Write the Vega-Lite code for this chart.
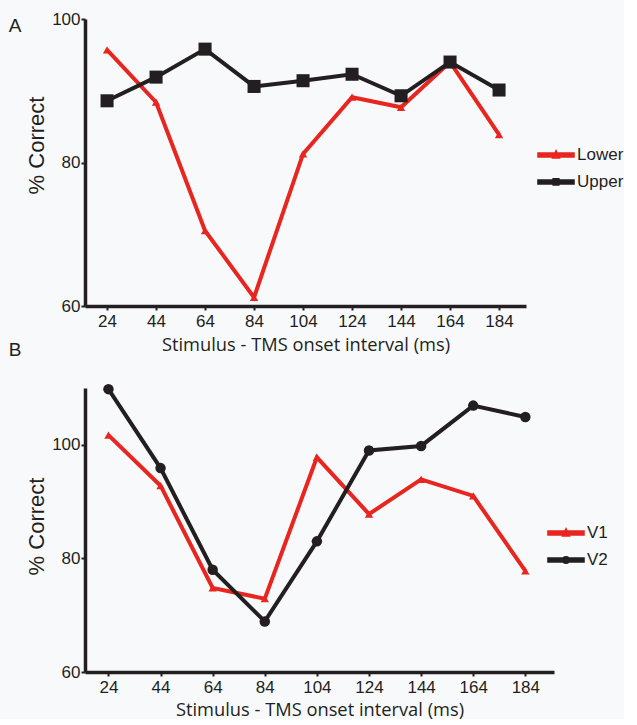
{
  "$schema": "https://vega.github.io/schema/vega-lite/v6.json",
  "background": "#f8f9fb",
  "padding": {"left": 8, "top": 10, "right": 0, "bottom": 0},
  "config": {
    "view": {"stroke": null},
    "font": "Liberation Sans",
    "axis": {
      "grid": false,
      "domainColor": "#231f20",
      "domainWidth": 3.5,
      "tickColor": "#231f20",
      "tickWidth": 2,
      "tickSize": 4,
      "labelFont": "Liberation Sans",
      "labelFontSize": 17,
      "labelColor": "#231f20",
      "titleColor": "#231f20",
      "titleFontWeight": "normal"
    },
    "title": {"font": "Liberation Sans", "fontSize": 19, "fontWeight": "normal", "color": "#231f20", "anchor": "start", "frame": "bounds"}
  },
  "datasets": {
    "panelA": [
      {"series": "Lower", "interval": 24, "pct": 95.7},
      {"series": "Lower", "interval": 44, "pct": 88.4},
      {"series": "Lower", "interval": 64, "pct": 70.5},
      {"series": "Lower", "interval": 84, "pct": 61.2},
      {"series": "Lower", "interval": 104, "pct": 81.2},
      {"series": "Lower", "interval": 124, "pct": 89.1},
      {"series": "Lower", "interval": 144, "pct": 87.7},
      {"series": "Lower", "interval": 164, "pct": 94.0},
      {"series": "Lower", "interval": 184, "pct": 83.9},
      {"series": "Upper", "interval": 24, "pct": 88.6},
      {"series": "Upper", "interval": 44, "pct": 91.9},
      {"series": "Upper", "interval": 64, "pct": 95.8},
      {"series": "Upper", "interval": 84, "pct": 90.6},
      {"series": "Upper", "interval": 104, "pct": 91.4},
      {"series": "Upper", "interval": 124, "pct": 92.3},
      {"series": "Upper", "interval": 144, "pct": 89.3},
      {"series": "Upper", "interval": 164, "pct": 94.0},
      {"series": "Upper", "interval": 184, "pct": 90.1}
    ],
    "panelB": [
      {"series": "V1", "interval": 24, "pct": 101.7},
      {"series": "V1", "interval": 44, "pct": 92.8},
      {"series": "V1", "interval": 64, "pct": 74.8},
      {"series": "V1", "interval": 84, "pct": 72.9},
      {"series": "V1", "interval": 104, "pct": 97.8},
      {"series": "V1", "interval": 124, "pct": 87.8},
      {"series": "V1", "interval": 144, "pct": 93.9},
      {"series": "V1", "interval": 164, "pct": 91.0},
      {"series": "V1", "interval": 184, "pct": 77.8},
      {"series": "V2", "interval": 24, "pct": 109.8},
      {"series": "V2", "interval": 44, "pct": 95.9},
      {"series": "V2", "interval": 64, "pct": 78.0},
      {"series": "V2", "interval": 84, "pct": 68.9},
      {"series": "V2", "interval": 104, "pct": 83.0},
      {"series": "V2", "interval": 124, "pct": 99.0},
      {"series": "V2", "interval": 144, "pct": 99.8},
      {"series": "V2", "interval": 164, "pct": 106.9},
      {"series": "V2", "interval": 184, "pct": 104.9}
    ]
  },
  "spacing": -13,
  "resolve": {"scale": {"x": "independent", "y": "independent", "color": "independent"}},
  "vconcat": [
    {
      "width": 441,
      "height": 287,
      "data": {"name": "panelA"},
      "title": {"text": "A", "dx": -17, "dy": 26, "offset": 0},
      "encoding": {
        "x": {"field": "interval", "type": "quantitative",
          "scale": {"domain": [15, 195], "nice": false, "zero": false},
          "axis": {"values": [24, 44, 64, 84, 104, 124, 144, 164, 184], "title": "Stimulus - TMS onset interval (ms)", "titleFont": "Open Sans", "titleFontSize": 18.3, "labelPadding": 3, "titlePadding": 7}},
        "y": {"field": "pct", "type": "quantitative",
          "scale": {"domain": [60, 100], "nice": false, "zero": false},
          "axis": {"values": [60, 80, 100], "title": "% Correct", "titleFontSize": 22, "titlePadding": 3, "labelPadding": 1, "titleY": 126}},
        "color": {"field": "series", "type": "nominal",
          "scale": {"domain": ["Lower", "Upper"], "range": ["#e8251f", "#231f20"]},
          "legend": {
            "orient": "none", "legendX": 452, "legendY": 117, "title": null,
            "labelFontSize": 17, "labelColor": "#231f20", "labelOffset": 2,
            "symbolSize": 1300, "rowPadding": -8, "padding": 0,
            "encode": {"symbols": {"update": {
              "shape": {"signal": "datum.value === 'Lower' ? 'M-1,-0.11H1V0.11H-1Z M0,-0.24L0.19,0.16H-0.19Z' : 'M-1,-0.11H1V0.11H-1Z M-0.16,-0.18H0.16V0.16H-0.16Z'"},
              "fill": {"signal": "datum.value === 'Lower' ? '#e8251f' : '#231f20'"},
              "stroke": {"value": "transparent"},
              "opacity": {"value": 1}
            }}}
          }}
      },
      "layer": [
        {"mark": {"type": "line", "strokeWidth": 4}},
        {"transform": [{"filter": "datum.series === 'Lower'"}],
         "mark": {"type": "point", "shape": "triangle-up", "filled": true, "opacity": 1, "size": 70}},
        {"transform": [{"filter": "datum.series === 'Upper'"}],
         "mark": {"type": "point", "shape": "square", "filled": true, "opacity": 1, "size": 170}}
      ]
    },
    {
      "width": 469,
      "height": 284,
      "data": {"name": "panelB"},
      "title": {"text": "B", "dx": -17, "offset": 21},
      "encoding": {
        "x": {"field": "interval", "type": "quantitative",
          "scale": {"domain": [15, 195], "nice": false, "zero": false},
          "axis": {"values": [24, 44, 64, 84, 104, 124, 144, 164, 184], "title": "Stimulus - TMS onset interval (ms)", "titleFont": "Open Sans", "titleFontSize": 18.3, "labelPadding": 3, "titlePadding": 6}},
        "y": {"field": "pct", "type": "quantitative",
          "scale": {"domain": [60, 110], "nice": false, "zero": false},
          "axis": {"values": [60, 80, 100], "title": "% Correct", "titleFontSize": 22, "titlePadding": 3, "labelPadding": 1, "titleY": 138}},
        "color": {"field": "series", "type": "nominal",
          "scale": {"domain": ["V1", "V2"], "range": ["#e8251f", "#231f20"]},
          "legend": {
            "orient": "none", "legendX": 462, "legendY": 126, "title": null,
            "labelFontSize": 17, "labelColor": "#231f20", "labelOffset": 2,
            "symbolSize": 1300, "rowPadding": -3, "padding": 0,
            "encode": {"symbols": {"update": {
              "shape": {"signal": "datum.value === 'V1' ? 'M-1,-0.11H1V0.11H-1Z M0,-0.24L0.19,0.16H-0.19Z' : 'M-1,-0.11H1V0.11H-1Z M0.18,0 A0.18,0.18 0 1,1 -0.18,0 A0.18,0.18 0 1,1 0.18,0Z'"},
              "fill": {"signal": "datum.value === 'V1' ? '#e8251f' : '#231f20'"},
              "stroke": {"value": "transparent"},
              "opacity": {"value": 1}
            }}}
          }}
      },
      "layer": [
        {"mark": {"type": "line", "strokeWidth": 4}},
        {"transform": [{"filter": "datum.series === 'V1'"}],
         "mark": {"type": "point", "shape": "triangle-up", "filled": true, "opacity": 1, "size": 70}},
        {"transform": [{"filter": "datum.series === 'V2'"}],
         "mark": {"type": "point", "shape": "circle", "filled": true, "opacity": 1, "size": 110}}
      ]
    }
  ]
}
